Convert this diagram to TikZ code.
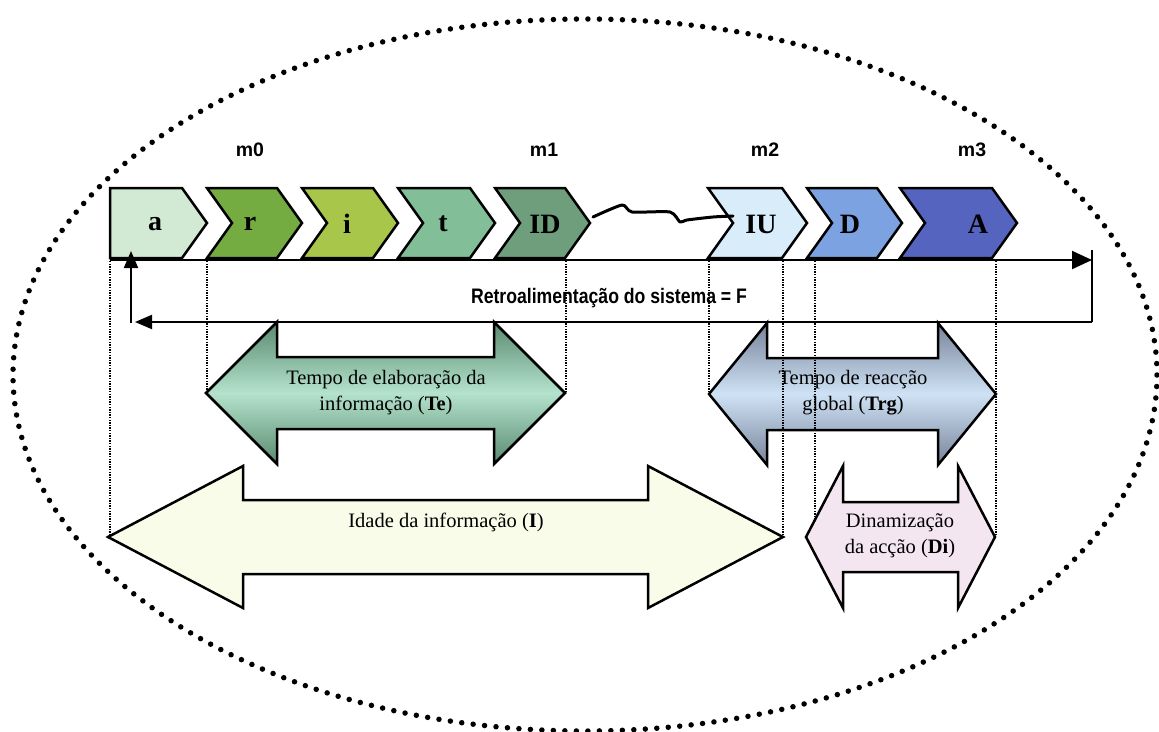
\documentclass[tikz,border=0pt]{standalone}
\usepackage{fontspec}
\usepackage{graphicx}
\setmainfont{Liberation Serif}
\newfontfamily\arial{Liberation Sans}
\usetikzlibrary{arrows.meta}
\definecolor{cA}{HTML}{D2EAD4}
\definecolor{cR}{HTML}{74AC42}
\definecolor{cI}{HTML}{A8C64A}
\definecolor{cT}{HTML}{82BE98}
\definecolor{cID}{HTML}{6F9E7C}
\definecolor{cIU}{HTML}{D8ECFA}
\definecolor{cD}{HTML}{7DA2E2}
\definecolor{cAA}{HTML}{5564BE}
\definecolor{teDark}{HTML}{5A8A70}
\definecolor{teLight}{HTML}{B4E2CC}
\definecolor{trgDark}{HTML}{77839A}
\definecolor{trgLight}{HTML}{CFE2F5}
\definecolor{iCream}{HTML}{FAFCEA}
\definecolor{diPink}{HTML}{F4E6F1}
\newcommand\chevpath[2]{(#1,188) -- ++(#2,0) -- ++(25,35) -- ++(-25,35) -- ++(-#2,0) -- ++(25,-35) -- cycle}
\newcommand\dblpath[6]{(#1,#3) -- ({#1+#4},{#3-#5}) -- ({#1+#4},{#3-#6}) -- ({#2-#4},{#3-#6}) -- ({#2-#4},{#3-#5}) -- (#2,#3) -- ({#2-#4},{#3+#5}) -- ({#2-#4},{#3+#6}) -- ({#1+#4},{#3+#6}) -- ({#1+#4},{#3+#5}) -- cycle}
\begin{document}
\begin{tikzpicture}[x=1pt,y=-1pt,
  chev/.style={draw=black, line width=2.5pt, line join=miter},
  chevtxt/.style={font=\fontsize{28}{30}\selectfont\bfseries, inner sep=0pt},
  mlab/.style={font=\arial\bfseries\fontsize{19.5}{22}\selectfont, inner sep=0pt},
  dblarrow/.style={draw=black, line width=2.5pt, line join=miter},
  lab/.style={font=\fontsize{20.5}{26}\selectfont, align=center, inner sep=0pt},
  guide/.style={line width=1.3pt, dash pattern=on 1.3pt off 1.3pt, black},
  axis/.style={line width=2pt},
  tipbig/.style={-{Triangle[length=20pt,width=18pt]}},
  tipsmall/.style={-{Triangle[length=17pt,width=14pt]}},
]
\useasboundingbox (0,0) rectangle (1159,731);
\begin{scope}
\clip (0,0) rectangle (1159,731);
\draw[line width=5.5pt, line cap=round, dash pattern=on 0pt off 11.5pt] (585,375) ellipse [x radius=572, y radius=356];
\end{scope}

% chevrons
\draw[chev, fill=cA] (110,188) -- (182,188) -- (207,223) -- (182,258) -- (110,258) -- cycle;
\draw[chev, fill=cR] \chevpath{207}{70};
\draw[chev, fill=cI] \chevpath{302}{71};
\draw[chev, fill=cT] \chevpath{398}{72};
\draw[chev, fill=cID] \chevpath{495}{70};
\draw[chev, fill=cIU] \chevpath{708}{74};
\draw[chev, fill=cD] \chevpath{807}{70};
\draw[chev, fill=cAA] \chevpath{900}{92};

\node[chevtxt] (na) at (155,224) {a};
\node[chevtxt] (nr) at (250,224) {r};
\node[chevtxt] (ni) at (347,224) {i};
\node[chevtxt] (nt) at (443,224) {t};
\node[chevtxt] (nID) at (545,224) {ID};
\node[chevtxt] (nIU) at (761,224) {IU};
\node[chevtxt] (nD) at (850,224) {D};
\node[chevtxt] (nA) at (978,224) {A};

\node[mlab] (m0) at (250,150) {m0};
\node[mlab] (m1) at (544,150) {m1};
\node[mlab] (m2) at (765,150) {m2};
\node[mlab] (m3) at (972,150) {m3};

% wavy link
\coordinate (w0) at (593,217);
\coordinate (w1) at (733,216);
\draw[line width=3pt, line join=round, line cap=round] plot[smooth, tension=0.4] coordinates {(w0) (622,205) (632,212) (670,212) (680,222) (687,220) (713,217) (w1)};

% axis and feedback
\coordinate (ax0) at (110,260);
\coordinate (ax1) at (1092,260);
\coordinate (bar0) at (1092,250);
\coordinate (fbR) at (1092,322);
\coordinate (fbL) at (135,322);
\coordinate (fbB) at (131,323);
\coordinate (fbU) at (131,251);
\draw[axis, tipbig] (ax0) -- (ax1);
\draw[axis] (bar0) -- (fbR);
\draw[axis, tipsmall] (fbR) -- (fbL);
\draw[axis, tipsmall] (fbB) -- (fbU);
\node[inner sep=0pt] (fbT) at (609,298) {\scalebox{0.84}[1]{\arial\bfseries\fontsize{21}{25}\selectfont Retroalimentação do sistema = F}};

% double arrows
\path[dblarrow, top color=teDark, bottom color=teDark, middle color=teLight] \dblpath{206}{565}{393}{71}{71}{36};
\path[dblarrow, top color=trgDark, bottom color=trgDark, middle color=trgLight] \dblpath{709}{996}{394}{58}{71}{36};
\path[dblarrow, fill=iCream] \dblpath{108}{783}{537}{135}{71}{37};
\path[dblarrow, fill=diPink] \dblpath{806}{995}{537}{37}{71}{35};

\node[lab] (teL) at (386,393) {Tempo de elaboração da\\informação (\textbf{Te})};
\node[lab] (trgL) at (853,393) {Tempo de reacção\\global (\textbf{Trg})};
\node[lab] (iL) at (446,522) {Idade da informação (\textbf{I})};
\node[lab] (diL) at (900,536) {Dinamização\\da acção (\textbf{Di})};

% dotted guides
\draw[guide] (110,261) -- (110,536);
\draw[guide] (207,261) -- (207,392);
\draw[guide] (566,261) -- (566,392);
\draw[guide] (709,261) -- (709,393);
\draw[guide] (783,261) -- (783,536);
\draw[guide] (815,261) -- (815,521);
\draw[guide] (996,261) -- (996,536);
\end{tikzpicture}
\end{document}
